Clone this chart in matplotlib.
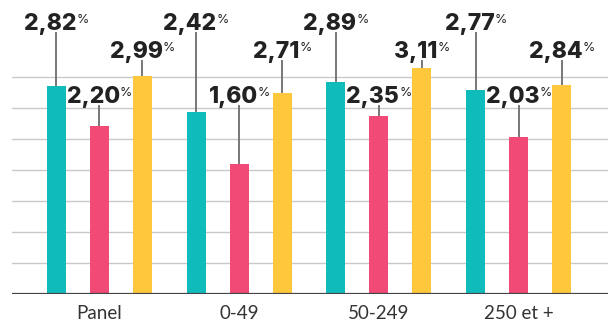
import matplotlib.pyplot as plt
from matplotlib.transforms import offset_copy

# data
categories = ['Panel', '0-49', '50-249', '250 et +']
teal_vals = [2.82, 2.42, 2.89, 2.77]
pink_vals = [2.20, 1.60, 2.35, 2.03]
yellow_vals = [2.99, 2.71, 3.11, 2.84]

colors = ['#10BBBB', '#F24A77', '#FFC73C']
base = -0.45
px_per_unit = 63.5

fig = plt.figure(figsize=(6.08, 3.23), dpi=100)
ax = fig.add_axes([12 / 608, 29 / 323, 596 / 608, 294 / 323])
ax.set_xlim(-0.626, 3.64)
ax.set_ylim(base, base + 294 / px_per_unit)

# decorative grid lines every 31 px
grid_y = [base + k * 31 / px_per_unit for k in range(1, 8)]
for gy in grid_y:
    ax.axhline(gy, color='#c9c9c9', lw=1, zorder=0)
ax.axhline(base, color='#444444', lw=1.6, zorder=3)

offset = 43 / 139.7
width = 19 / 139.7
label_rows = [3.707, 2.558, 3.267]  # teal, pink, yellow label baselines

series = [teal_vals, pink_vals, yellow_vals]
renderer = fig.canvas.get_renderer()
for i, vals in enumerate(series):
    xs = [g + (i - 1) * offset for g in range(len(categories))]
    ax.bar(xs, [v - base for v in vals], width=width, bottom=base,
           color=colors[i], zorder=2)
    for x, v in zip(xs, vals):
        ax.plot([x, x], [v, label_rows[i] - 0.05], color='#777777', lw=1.4, zorder=1)
        num = f'{v:.2f}'.replace('.', ',')
        t1 = ax.text(x, label_rows[i], num, fontsize=16.5, fontweight='heavy',
                     family=['Inter', 'DejaVu Sans'], color='#222222',
                     ha='left', va='baseline')
        t2 = ax.text(x, label_rows[i], '%', fontsize=9,
                     family=['Inter', 'DejaVu Sans'],
                     color='#222222', ha='left', va='baseline')
        w1 = t1.get_window_extent(renderer).width
        w2 = t2.get_window_extent(renderer).width
        total = w1 + w2
        t1.set_transform(offset_copy(ax.transData, fig=fig, x=-total / 2 * 0.72,
                                     y=0, units='points'))
        t2.set_transform(offset_copy(ax.transData, fig=fig,
                                     x=(-total / 2 + w1) * 0.72,
                                     y=7 * 0.72, units='points'))

ax.set_xticks(range(len(categories)))
ax.set_xticklabels(categories, fontsize=13.5, family='Lato', color='#333333')
ax.tick_params(axis='x', length=0, pad=8)
ax.set_yticks([])
for s in ax.spines.values():
    s.set_visible(False)

fig.savefig('out.png', dpi=100)
